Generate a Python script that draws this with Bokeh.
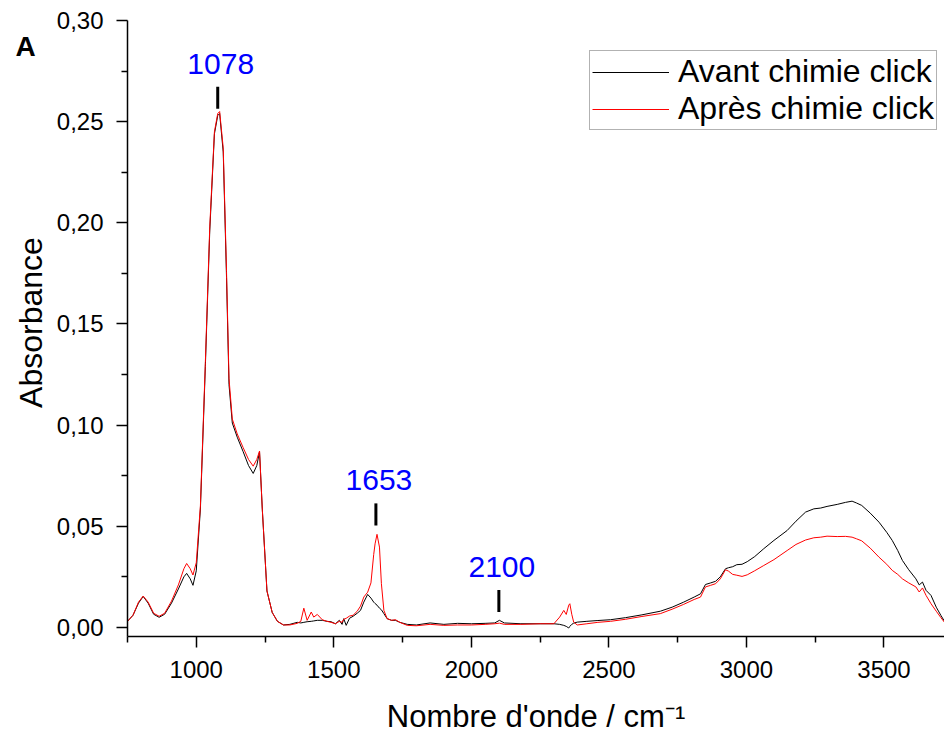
import math
from bokeh.plotting import figure
from bokeh.layouts import row
from bokeh.models import (Range1d, FixedTicker, CustomJSTickFormatter, Legend,
                          LegendItem, ColumnDataSource)
from bokeh.core.properties import value
from bokeh.embed import file_html
from bokeh.resources import INLINE

# ---------------- data ----------------
wavenumber = [
    750, 770, 790, 807, 825, 845, 865, 885, 910, 935,
    955, 965, 978, 988, 1000, 1015, 1033, 1049, 1066, 1078,
    1085, 1098, 1110, 1119, 1131, 1149, 1170, 1190, 1207, 1220,
    1230, 1240, 1257, 1276, 1295, 1317, 1340, 1367, 1380, 1391,
    1403, 1418, 1427, 1440, 1458, 1475, 1490, 1506, 1520, 1530,
    1536, 1545, 1557, 1570, 1585, 1597, 1609, 1623, 1635, 1645,
    1650, 1657, 1666, 1673, 1682, 1694, 1710, 1724, 1740, 1767,
    1800, 1850, 1900, 1950, 2000, 2050, 2085, 2102, 2120, 2180,
    2250, 2300, 2321, 2336, 2345, 2354, 2358, 2365, 2372, 2385,
    2420, 2460, 2506, 2560, 2620, 2687, 2730, 2772, 2810, 2833,
    2851, 2870, 2888, 2905, 2924, 2935, 2950, 2965, 2984, 3003,
    3030, 3063, 3100, 3148, 3180, 3215, 3245, 3270, 3293, 3330,
    3360, 3384, 3400, 3419, 3450, 3482, 3510, 3530, 3550, 3567,
    3590, 3616, 3628, 3640, 3653, 3671, 3690, 3707, 3720,
]

avant = [
    0.003, 0.006, 0.012, 0.0153, 0.012, 0.0065, 0.005, 0.0065, 0.012, 0.019,
    0.025, 0.0267, 0.024, 0.0208, 0.028, 0.0585, 0.129, 0.196, 0.244, 0.253,
    0.254, 0.235, 0.173, 0.120, 0.101, 0.094, 0.087, 0.080, 0.0761, 0.080,
    0.0868, 0.0585, 0.018, 0.0074, 0.003, 0.0012, 0.0015, 0.0025, 0.0022, 0.0025,
    0.0028, 0.0030, 0.0032, 0.0035, 0.0035, 0.0030, 0.0028, 0.0018, 0.0035, 0.0015,
    0.0043, 0.0010, 0.0045, 0.0055, 0.0070, 0.0084, 0.0125, 0.0163, 0.0145, 0.0125,
    0.0118, 0.0110, 0.0095, 0.0087, 0.0068, 0.0043, 0.0035, 0.0035, 0.0025, 0.0015,
    0.0012, 0.0022, 0.0015, 0.0020, 0.0018, 0.0020, 0.0022, 0.0035, 0.0022, 0.0018,
    0.0018, 0.0018, 0.0015, 0.0010, 0.0005, -0.0003, 0.0005, 0.0015, 0.0021, 0.0026,
    0.0030, 0.0034, 0.0038, 0.0048, 0.0062, 0.0080, 0.0100, 0.0125, 0.0150, 0.0166,
    0.0212, 0.0220, 0.0228, 0.0250, 0.0290, 0.0295, 0.0300, 0.0310, 0.0312, 0.0325,
    0.0350, 0.0389, 0.0430, 0.0479, 0.0525, 0.0570, 0.0586, 0.0590, 0.0598, 0.0608,
    0.0618, 0.0624, 0.0615, 0.0603, 0.0565, 0.0520, 0.0470, 0.0430, 0.0380, 0.0331,
    0.0285, 0.0240, 0.0210, 0.0224, 0.0183, 0.0158, 0.0100, 0.0059, 0.0030,
]

apres = [
    0.003, 0.006, 0.0125, 0.0155, 0.0125, 0.007, 0.0055, 0.007, 0.013, 0.021,
    0.029, 0.0316, 0.029, 0.0259, 0.032, 0.060, 0.131, 0.198, 0.245, 0.254,
    0.255, 0.237, 0.176, 0.123, 0.103, 0.0956, 0.089, 0.083, 0.0797, 0.083,
    0.0872, 0.0585, 0.018, 0.0074, 0.003, 0.0012, 0.0012, 0.002, 0.003, 0.0095,
    0.0035, 0.0076, 0.0051, 0.0064, 0.0038, 0.0030, 0.0025, 0.0018, 0.0030, 0.0025,
    0.0040, 0.0045, 0.0056, 0.0060, 0.0080, 0.0105, 0.0150, 0.0174, 0.0220, 0.0360,
    0.0413, 0.0460, 0.0397, 0.0216, 0.0084, 0.0043, 0.0035, 0.0038, 0.0025, 0.0010,
    0.0008, 0.0015, 0.0010, 0.0012, 0.0012, 0.0015, 0.0018, 0.0021, 0.0015, 0.0015,
    0.0018, 0.0018, 0.0051, 0.0084, 0.0064, 0.0110, 0.0117, 0.0065, 0.0026, 0.0012,
    0.0018, 0.0025, 0.0030, 0.0040, 0.0054, 0.0068, 0.0090, 0.0114, 0.0138, 0.0150,
    0.0200, 0.0208, 0.0216, 0.0240, 0.0285, 0.0278, 0.0262, 0.0258, 0.0252, 0.0260,
    0.0280, 0.0306, 0.0335, 0.0380, 0.0410, 0.0432, 0.0443, 0.0446, 0.0451, 0.0449,
    0.0450, 0.0446, 0.0438, 0.0428, 0.0392, 0.0347, 0.0312, 0.0282, 0.0262, 0.0240,
    0.0220, 0.0200, 0.0175, 0.0195, 0.0158, 0.0117, 0.0080, 0.0048, 0.0025,
]

series_names = ["Avant chimie click", "Après chimie click"]

peak_labels = ["1078", "1653", "2100"]
peak_wn = [1078, 1653, 2100]

x_ticks = [1000, 1500, 2000, 2500, 3000, 3500]
x_minor = [750, 1250, 1750, 2250, 2750, 3250]
y_ticks = [0.00, 0.05, 0.10, 0.15, 0.20, 0.25, 0.30]
y_minor = [0.025, 0.075, 0.125, 0.175, 0.225, 0.275]

x_title = "Nombre d'onde / cm\u207b\u00b9"
y_title = "Absorbance"
panel_letter = "A"

# ---------------- layout / style ----------------
FONT = "Liberation Sans"
STRIP_W = 50
TOTAL_W, TOTAL_H = 944, 736
FRAME_TOP, FRAME_BOTTOM = 20, 636
peak_tick_base = [0.2564, 0.0504, 0.0076]   # annotation marker positions
peak_tick_len = 0.0109

# left strip (its frame is aligned with the main frame, so use pixel coords)
strip = figure(width=STRIP_W, height=TOTAL_H, output_backend="svg",
               toolbar_location=None, x_axis_location=None, y_axis_location=None,
               x_range=Range1d(0, STRIP_W),
               y_range=Range1d(FRAME_BOTTOM, FRAME_TOP),
               min_border_left=0, min_border_right=0,
               min_border_top=FRAME_TOP, min_border_bottom=TOTAL_H - FRAME_BOTTOM)
strip.outline_line_color = None
strip.grid.visible = False
strip.text(x=[25], y=[46], text=[panel_letter], text_align="center",
           text_baseline="alphabetic", text_font=value(FONT),
           text_font_size=value("28px"), text_font_style="bold",
           text_color="black")
strip.text(x=[30], y=[322], text=[y_title], angle=math.pi / 2,
           text_align="center", text_baseline="middle",
           text_font=value(FONT), text_font_size=value("32px"),
           text_color="black")

p = figure(width=TOTAL_W - STRIP_W, height=TOTAL_H, output_backend="svg",
           toolbar_location=None,
           x_range=Range1d(750, 3720), y_range=Range1d(-0.0045, 0.30),
           min_border_left=127 - STRIP_W, min_border_right=0,
           min_border_top=FRAME_TOP, min_border_bottom=TOTAL_H - FRAME_BOTTOM)
p.outline_line_color = None
p.grid.visible = False
p.background_fill_color = "white"

r1 = p.line(wavenumber, avant, line_color="black", line_width=1)
r2 = p.line(wavenumber, apres, line_color="#ff0000", line_width=1)

for ax in (p.xaxis[0], p.yaxis[0]):
    ax.axis_line_width = 1.5
    ax.axis_line_color = "black"
    ax.major_tick_in = 0
    ax.major_tick_out = 11
    ax.minor_tick_in = 0
    ax.minor_tick_out = 6
    ax.major_tick_line_width = 1.5
    ax.minor_tick_line_width = 1.5
    ax.major_tick_line_color = "black"
    ax.minor_tick_line_color = "black"
    ax.major_label_text_font = FONT
    ax.major_label_text_font_size = "24px"
    ax.major_label_text_color = "black"

p.xaxis.ticker = FixedTicker(ticks=x_ticks, minor_ticks=x_minor)
p.yaxis.ticker = FixedTicker(ticks=y_ticks, minor_ticks=y_minor)
p.yaxis.formatter = CustomJSTickFormatter(code="return tick.toFixed(2).replace('.', ',');")
p.xaxis.major_label_standoff = 13
p.yaxis.major_label_standoff = 13

p.xaxis.axis_label = x_title
p.xaxis.axis_label_text_font = FONT
p.xaxis.axis_label_text_font_size = "31px"
p.xaxis.axis_label_text_font_style = "normal"
p.xaxis.axis_label_text_color = "black"
p.xaxis.axis_label_standoff = 18

src = ColumnDataSource(dict(
    x=peak_wn,
    y0=peak_tick_base,
    y1=[b + peak_tick_len for b in peak_tick_base],
    text=peak_labels,
))
p.segment(x0="x", y0="y0", x1="x", y1="y1", source=src,
          line_color="black", line_width=3)
p.text(x="x", y="y1", text="text", source=src, x_offset=3, y_offset=-23,
       text_align="center", text_baseline="alphabetic",
       text_color="#0000ff", text_font=value(FONT),
       text_font_size=value("30px"))

legend = Legend(items=[LegendItem(label=series_names[0], renderers=[r1]),
                       LegendItem(label=series_names[1], renderers=[r2])],
                location=(462, 506))
legend.border_line_color = "#666666"
legend.border_line_width = 1.5
legend.background_fill_color = "white"
legend.background_fill_alpha = 1
legend.label_text_font = FONT
legend.label_text_font_size = "32px"
legend.label_text_color = "black"
legend.glyph_width = 77
legend.glyph_height = 30
legend.label_standoff = 9
legend.padding = 2
legend.spacing = 0
legend.margin = 0
p.add_layout(legend)

layout = row(strip, p, spacing=0)
open("out.html", "w").write(file_html(layout, INLINE))
